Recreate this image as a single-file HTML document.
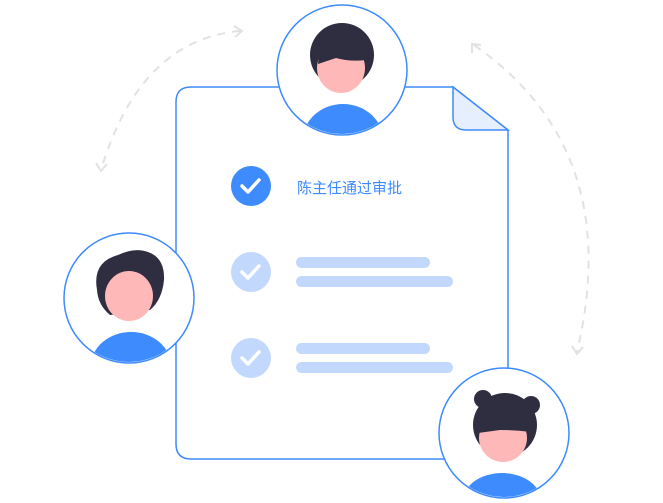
<!DOCTYPE html>
<html><head><meta charset="utf-8"><style>
html,body{margin:0;padding:0;background:#fff;width:663px;height:503px;overflow:hidden}
svg{display:block}
</style></head><body>
<svg width="663" height="503" viewBox="0 0 663 503" xmlns="http://www.w3.org/2000/svg">
<defs>
<clipPath id="c1"><circle cx="342" cy="70" r="64"/></clipPath>
<clipPath id="c2"><circle cx="129" cy="298" r="64"/></clipPath>
<clipPath id="c3"><circle cx="504" cy="433" r="64"/></clipPath>
</defs>
<path d="M240 31 Q140 40 101 170" fill="none" stroke="#e2e2e2" stroke-width="2" stroke-dasharray="8 7"/>
<path d="M234 26 L242 31 L235 37" fill="none" stroke="#e2e2e2" stroke-width="2"/>
<path d="M96 163 L101 171 L107 164" fill="none" stroke="#e2e2e2" stroke-width="2"/>
<path d="M474 45 Q625 150 577 352" fill="none" stroke="#e2e2e2" stroke-width="2" stroke-dasharray="8 7"/>
<path d="M472 53 L472 44 L481 45" fill="none" stroke="#e2e2e2" stroke-width="2"/>
<path d="M572 346 L577 354 L583 347" fill="none" stroke="#e2e2e2" stroke-width="2"/>
<path d="M191 87 L453 87 L508 130 L508 444 Q508 459 493 459 L191 459 Q176 459 176 444 L176 102 Q176 87 191 87 Z" fill="#fff" stroke="#3d8bfd" stroke-width="1.5"/>
<path d="M453 87 L508 130 L466 130 Q453 130 453 117 Z" fill="#e6effd" stroke="#3d8bfd" stroke-width="1.5"/>
<circle cx="251" cy="186" r="20" fill="#3d8bfd"/>
<path d="M242 186 L248 192 L259 180" fill="none" stroke="#fff" stroke-width="3.5" stroke-linecap="round" stroke-linejoin="round"/>
<text x="297" y="193" font-family="Liberation Sans, Noto Sans CJK SC, sans-serif" font-size="15" fill="#3d8bfd">陈主任通过审批</text>
<circle cx="251" cy="272" r="20" fill="#c3d8fd"/>
<path d="M242 272 L248 278 L259 266" fill="none" stroke="#fff" stroke-width="3.5" stroke-linecap="round" stroke-linejoin="round"/>
<rect x="296" y="257" width="134" height="11" rx="5.5" fill="#c3d8fd"/>
<rect x="296" y="276" width="157" height="11" rx="5.5" fill="#c3d8fd"/>
<circle cx="251" cy="358" r="20" fill="#c3d8fd"/>
<path d="M242 358 L248 364 L259 352" fill="none" stroke="#fff" stroke-width="3.5" stroke-linecap="round" stroke-linejoin="round"/>
<rect x="296" y="343" width="134" height="11" rx="5.5" fill="#c3d8fd"/>
<rect x="296" y="362" width="157" height="11" rx="5.5" fill="#c3d8fd"/>
<circle cx="342" cy="70" r="65" fill="#fff" stroke="#3d8bfd" stroke-width="1.5"/>
<g clip-path="url(#c1)">
<circle cx="342" cy="55" r="32" fill="#2f2e41"/>
<ellipse cx="341" cy="68" rx="24" ry="25" fill="#ffb8b8"/>
<path d="M318 64 Q320 36 342 34 Q368 36 366 60 Q350 62 336 58 Z" fill="#2f2e41"/>
<ellipse cx="343" cy="140" rx="40" ry="36" fill="#3d8bfd"/>
</g>
<circle cx="129" cy="298" r="65" fill="#fff" stroke="#3d8bfd" stroke-width="1.5"/>
<g clip-path="url(#c2)">
<path d="M97 290 Q92 262 118 255 Q135 247 148 252 Q165 258 164 280 Q162 300 150 310 L110 315 Q98 305 97 290 Z" fill="#2f2e41"/>
<ellipse cx="129" cy="296" rx="24" ry="25" fill="#ffb8b8"/>
<ellipse cx="131" cy="366" rx="40" ry="34" fill="#3d8bfd"/>
</g>
<circle cx="504" cy="433" r="65" fill="#fff" stroke="#3d8bfd" stroke-width="1.5"/>
<g clip-path="url(#c3)">
<circle cx="483" cy="399" r="9" fill="#2f2e41"/>
<circle cx="531" cy="405" r="9" fill="#2f2e41"/>
<circle cx="505" cy="425" r="32" fill="#2f2e41"/>
<ellipse cx="503" cy="438" rx="24" ry="24" fill="#ffb8b8"/>
<path d="M478 433 Q478 405 505 404 Q532 405 531 432 Q515 430 500 430 Z" fill="#2f2e41"/>
<ellipse cx="502" cy="503" rx="40" ry="30" fill="#3d8bfd"/>
</g>
</svg>
</body></html>
